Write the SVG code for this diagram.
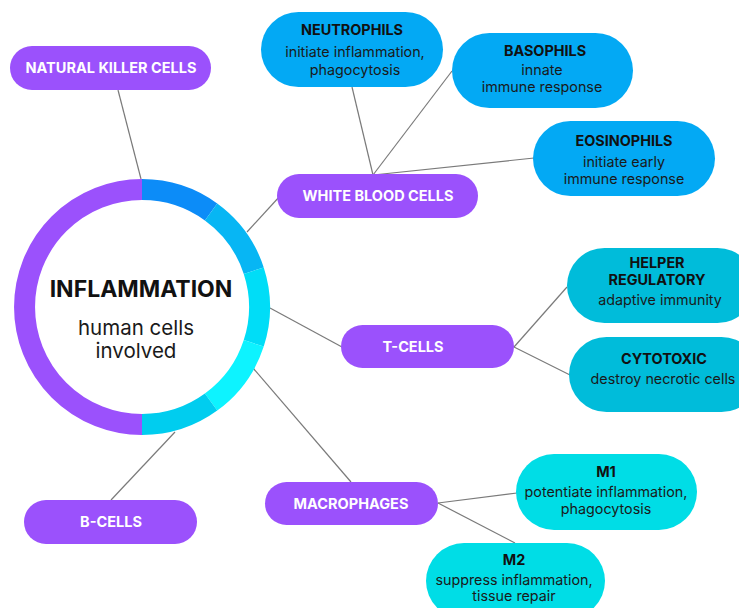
<svg xmlns="http://www.w3.org/2000/svg" width="739" height="608" viewBox="0 0 739 608">
<style>
.p{fill:#9B51FC}
.b{fill:#03A9F4}
.t{fill:#00BCDA}
.m{fill:#00DDE6}
.pl{font-family:Inter,"Liberation Sans",sans-serif;font-weight:700;font-size:14.5px;fill:#fff;text-anchor:middle}
.ti{font-family:Inter,"Liberation Sans",sans-serif;font-weight:700;font-size:14.4px;fill:#111;text-anchor:middle}
.d{font-family:Inter,"Liberation Sans",sans-serif;font-weight:400;font-size:14.3px;fill:#1a1a1a;text-anchor:middle}
.seg{fill:none;stroke-width:21}
#connectors line{stroke:#7a7a7a;stroke-width:1.2}
</style>
<rect width="739" height="608" fill="#fff"/>
<g id="connectors">
<line x1="118" y1="90" x2="141" y2="179"/>
<line x1="247" y1="232" x2="280" y2="196"/>
<line x1="373" y1="175" x2="352" y2="87"/>
<line x1="373" y1="175" x2="452" y2="71"/>
<line x1="373" y1="175" x2="534" y2="158"/>
<line x1="270" y1="308" x2="342" y2="347"/>
<line x1="514" y1="347" x2="567" y2="287"/>
<line x1="514" y1="347" x2="570" y2="375"/>
<line x1="253" y1="368" x2="351" y2="482"/>
<line x1="175" y1="432" x2="111" y2="500"/>
<line x1="438" y1="503" x2="517" y2="493"/>
<line x1="438" y1="503" x2="515" y2="543"/>
</g>
<g id="inflammation">
<path class="seg" stroke="#9B51FC" d="M142,189.5 A117.5,117.5 0 0 0 142,424.5"/>
<path class="seg" stroke="#0C8CF8" d="M142,189.5 A117.5,117.5 0 0 1 211.07,211.94"/>
<path class="seg" stroke="#07B6F4" d="M211.07,211.94 A117.5,117.5 0 0 1 253.75,270.69"/>
<path class="seg" stroke="#00DDF7" d="M253.75,270.69 A117.5,117.5 0 0 1 253.75,343.31"/>
<path class="seg" stroke="#0DF3FF" d="M253.75,343.31 A117.5,117.5 0 0 1 211.07,402.06"/>
<path class="seg" stroke="#00CDEF" d="M211.07,402.06 A117.5,117.5 0 0 1 142,424.5"/>
<text x="141" y="297" font-family="Inter,'Liberation Sans',sans-serif" font-weight="700" font-size="23" fill="#111" text-anchor="middle">INFLAMMATION</text>
<text x="136" y="335" font-family="Inter,'Liberation Sans',sans-serif" font-size="20.5" fill="#1a1a1a" text-anchor="middle">human cells</text>
<text x="136" y="358" font-family="Inter,'Liberation Sans',sans-serif" font-size="20.5" fill="#1a1a1a" text-anchor="middle">involved</text>
</g>
<g id="nk"><rect class="p" x="10" y="46" width="201" height="44" rx="22"/><text class="pl" x="111" y="73">NATURAL KILLER CELLS</text></g>
<g id="wbc"><rect class="p" x="277" y="174" width="201" height="44" rx="22"/><text class="pl" x="378" y="201">WHITE BLOOD CELLS</text></g>
<g id="tcells"><rect class="p" x="341" y="325" width="173" height="43" rx="21.5"/><text class="pl" x="413" y="352">T-CELLS</text></g>
<g id="macrophages"><rect class="p" x="265" y="482" width="173" height="43" rx="21.5"/><text class="pl" x="351" y="509">MACROPHAGES</text></g>
<g id="bcells"><rect class="p" x="24" y="500" width="173" height="44" rx="22"/><text class="pl" x="111" y="527">B-CELLS</text></g>
<g id="neutrophils"><rect class="b" x="261" y="12" width="182" height="75" rx="37.5"/><text class="ti" x="352" y="35">NEUTROPHILS</text><text class="d" x="355" y="57">initiate inflammation,</text><text class="d" x="355" y="75">phagocytosis</text></g>
<g id="basophils"><rect class="b" x="452" y="33" width="181" height="75" rx="37.5"/><text class="ti" x="545" y="56">BASOPHILS</text><text class="d" x="542" y="75">innate</text><text class="d" x="542" y="92">immune response</text></g>
<g id="eosinophils"><rect class="b" x="533" y="121" width="182" height="75" rx="37.5"/><text class="ti" x="624" y="146">EOSINOPHILS</text><text class="d" x="624" y="167">initiate early</text><text class="d" x="624" y="184">immune response</text></g>
<g id="helper"><rect class="t" x="567" y="248" width="188" height="75" rx="37.5"/><text class="ti" x="657" y="268">HELPER</text><text class="ti" x="657" y="285">REGULATORY</text><text class="d" x="660" y="305">adaptive immunity</text></g>
<g id="cytotoxic"><rect class="t" x="569" y="337" width="190" height="75" rx="37.5"/><text class="ti" x="664" y="364">CYTOTOXIC</text><text class="d" x="663" y="384">destroy necrotic cells</text></g>
<g id="m1"><rect class="m" x="516" y="454" width="181" height="76" rx="38"/><text class="ti" x="606" y="477">M1</text><text class="d" x="606" y="497">potentiate inflammation,</text><text class="d" x="606" y="514">phagocytosis</text></g>
<g id="m2"><rect class="m" x="426" y="543" width="179" height="76" rx="38"/><text class="ti" x="514" y="565">M2</text><text class="d" x="514" y="585">suppress inflammation,</text><text class="d" x="514" y="601">tissue repair</text></g>
</svg>
